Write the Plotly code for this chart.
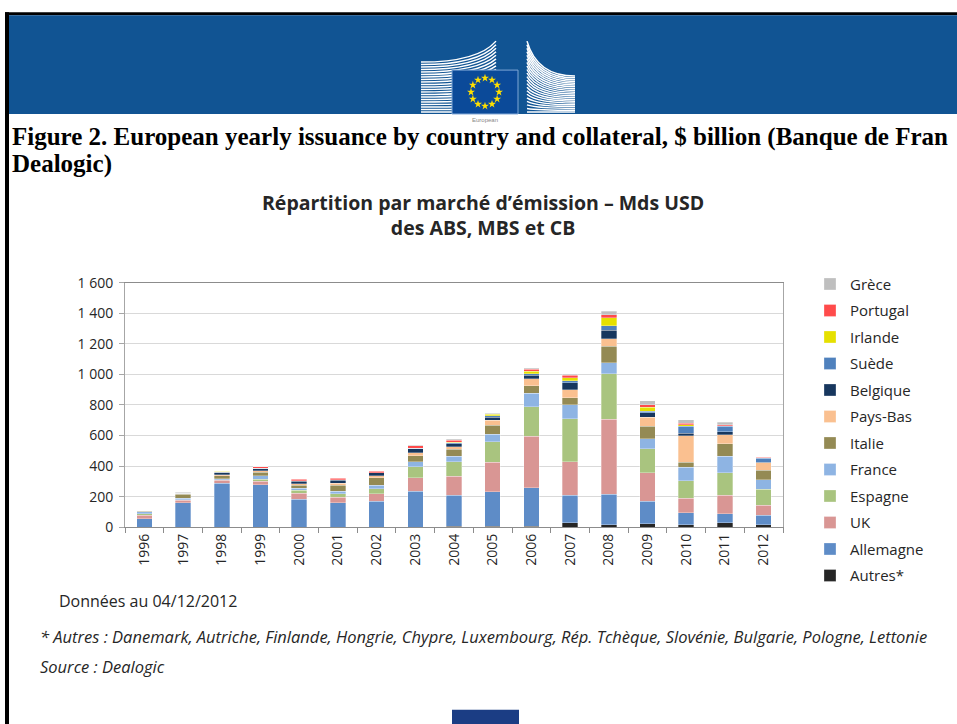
import math
import plotly.graph_objects as go

W = 957
FH = 734          # figure height in page px
S = 0.976         # observed vertical scale of the photographed page
OFF = 8           # observed top offset of the page (px)

def X(px):
    return px / W

def Y(py):
    # reference picture y (px from top) -> paper fraction
    return 1 - (py / S - OFF) / FH

# ---------------- data ----------------
years = [str(y) for y in range(1996, 2013)]

autres    = [1, 1, 1, 1, 1, 1, 1, 1, 7, 7, 7, 28, 17, 24, 17, 28, 17]
allemagne = [55, 158, 285, 277, 181, 159, 170, 235, 203, 225, 251, 181, 200, 146, 76, 61, 61]
uk        = [23, 17, 22, 24, 39, 37, 48, 87, 124, 194, 338, 218, 488, 187, 98, 120, 65]
espagne   = [10, 4, 4, 11, 20, 22, 33, 72, 94, 133, 192, 281, 298, 155, 113, 146, 105]
france    = [12, 11, 4, 22, 13, 17, 24, 33, 37, 48, 87, 94, 73, 68, 87, 109, 63]
italie    = [3, 25, 22, 26, 22, 39, 48, 41, 44, 59, 52, 44, 108, 81, 33, 83, 61]
pays_bas  = [2, 4, 4, 7, 9, 11, 11, 17, 17, 33, 44, 52, 48, 59, 174, 59, 50]
belgique  = [0, 2, 18, 17, 17, 22, 20, 28, 20, 22, 22, 47, 56, 28, 17, 17, 4]
suede     = [0, 0, 0, 0, 2, 2, 2, 2, 7, 7, 11, 13, 30, 11, 44, 37, 26]
irlande   = [0, 0, 7, 0, 0, 0, 0, 2, 4, 11, 17, 20, 51, 26, 11, 4, 1]
portugal  = [0, 4, 0, 9, 11, 11, 9, 15, 11, 2, 11, 15, 22, 17, 11, 7, 4]
grece     = [2, 2, 2, 2, 2, 2, 2, 2, 7, 4, 7, 7, 22, 26, 22, 15, 4]

series_names = ["Autres*", "Allemagne", "UK", "Espagne", "France", "Italie",
                "Pays-Bas", "Belgique", "Suède", "Irlande", "Portugal", "Grèce"]
series_values = [autres, allemagne, uk, espagne, france, italie,
                 pays_bas, belgique, suede, irlande, portugal, grece]
series_colors = ["#262626", "#5E8CC7", "#D99694", "#A9C47F", "#8EB4E3", "#948A54",
                 "#FAC090", "#17375E", "#4F81BD", "#E6E000", "#FF4B4B", "#BFBFBF"]

y_tickvals = [0, 200, 400, 600, 800, 1000, 1200, 1400, 1600]
y_ticktext = ["0", "200", "400", "600", "800", "1 000", "1 200", "1 400", "1 600"]

fig = go.Figure()
n = len(series_names)
for i, (name, vals, col) in enumerate(zip(series_names, series_values, series_colors)):
    fig.add_trace(go.Bar(
        x=years, y=vals, name=name, legendgroup=name, legendrank=n - i,
        marker=dict(color=col, line=dict(color="rgba(255,255,255,0.6)", width=0.5)),
    ))

# decoration overlay axes in reference-picture pixels
REF = dict(xref="x2", yref="y2")
shapes = []
annotations = []

def rect(x0, y0, x1, y1, fill, line=None, layer="below"):
    shapes.append(dict(type="rect", **REF, x0=x0, x1=x1, y0=y0, y1=y1, fillcolor=fill,
                       line=line or dict(width=0), layer=layer))

rect(5, 10, 957, 13, "black")
rect(5, 10, 9, 730, "black")
rect(9, 13, 957, 112, "#115493")

# logo: left building stripes
for i in range(21):
    yl = 110 - 2.5 * i
    yr = 110 - 3.55 * i
    shapes.append(dict(type="path", **REF,
                       path="M 421,{:.2f} Q 478,{:.2f} 496,{:.2f}".format(yl, yl, yr),
                       line=dict(color="white", width=1.5), layer="below"))
# right building stripes
for i in range(21):
    yl = 110 - 3.55 * i
    yr = 110 - 1.8 * i
    shapes.append(dict(type="path", **REF,
                       path="M 527,{:.2f} Q 537,{:.2f} 575,{:.2f}".format(yl, yr, yr),
                       line=dict(color="white", width=1.5), layer="below"))
# flag
rect(452, 68, 518, 112, "#0B4A99", dict(color="#7FA6D6", width=1))
star_x = [485 + 14 * math.sin(2 * math.pi * k / 12) for k in range(12)]
star_y = [90 - 14 * math.cos(2 * math.pi * k / 12) for k in range(12)]
fig.add_trace(go.Scatter(x=star_x, y=star_y, xaxis="x2", yaxis="y2", mode="markers",
                         marker=dict(symbol="star", size=6, color="#FFE000", line=dict(width=0)),
                         showlegend=False, hoverinfo="skip"))
annotations.append(dict(**REF, x=485, y=118, text="European", showarrow=False,
                        font=dict(size=6, color="#888888", family="Liberation Sans"),
                        xanchor="center", yanchor="middle"))

# bottom blue square
rect(452, 709, 519, 730, "#1B3D84")

# ---------------- texts ----------------
serif = "Liberation Serif"
sans = "Open Sans"

def text(x, y, t, size, family, anchor="left", color="#262626"):
    annotations.append(dict(**REF, x=x, y=y, xanchor=anchor, yanchor="middle", text=t,
                            showarrow=False, font=dict(family=family, size=size, color=color)))

text(10, 135, "<b>Figure 2. European yearly issuance by country and collateral, $ billion (Banque de Fran</b>",
     25, serif, color="black")
text(10, 162, "<b>Dealogic)</b>", 25, serif, color="black")
text(483, 213.5, "<b>Répartition par marché d’émission – Mds USD<br>des ABS, MBS et CB</b>", 19.5, sans, "center")
text(57, 600, "Données au 04/12/2012", 16, sans)
text(38, 636, "<i>* Autres : Danemark, Autriche, Finlande, Hongrie, Chypre, Luxembourg, Rép. Tchèque, "
              "Slovénie, Bulgarie, Pologne, Lettonie</i>", 16.5, sans)
text(38, 666, "<i>Source : Dealogic</i>", 16.5, sans)

fig.update_layout(
    width=W, height=FH, autosize=False,
    margin=dict(l=0, r=0, t=0, b=0),
    paper_bgcolor="white", plot_bgcolor="rgba(0,0,0,0)",
    barmode="stack", bargap=0.6,
    font=dict(family=sans, size=14, color="#262626"),
    showlegend=True,
    legend=dict(x=X(810), y=Y(266), xanchor="left", yanchor="top",
                traceorder="grouped", tracegroupgap=4,
                font=dict(family=sans, size=15, color="#262626"),
                bgcolor="rgba(0,0,0,0)"),
    shapes=shapes,
    annotations=annotations,
    xaxis=dict(type="category", domain=[X(125), X(783)], tickangle=-90,
               ticks="outside", tickson="boundaries", ticklen=5, tickcolor="#8C8C8C",
               showline=True, linecolor="#8C8C8C", mirror=True, showgrid=False,
               tickfont=dict(family=sans, size=14, color="#262626")),
    yaxis=dict(domain=[Y(526), Y(281)], range=[0, 1600],
               tickvals=y_tickvals, ticktext=y_ticktext,
               showgrid=True, gridcolor="#D9D9D9", zeroline=False,
               showline=True, linecolor="#A6A6A6", mirror=True,
               ticks="outside", ticklen=5, tickcolor="#A6A6A6", ticklabelstandoff=3,
               tickfont=dict(family=sans, size=14, color="#262626")),
    xaxis2=dict(domain=[0, 1], range=[0, W], visible=False, anchor="y2", fixedrange=True),
    yaxis2=dict(domain=[0, 1], range=[S * (FH + OFF), S * OFF], visible=False,
                anchor="x2", fixedrange=True),
)

fig.write_html("out.html")
